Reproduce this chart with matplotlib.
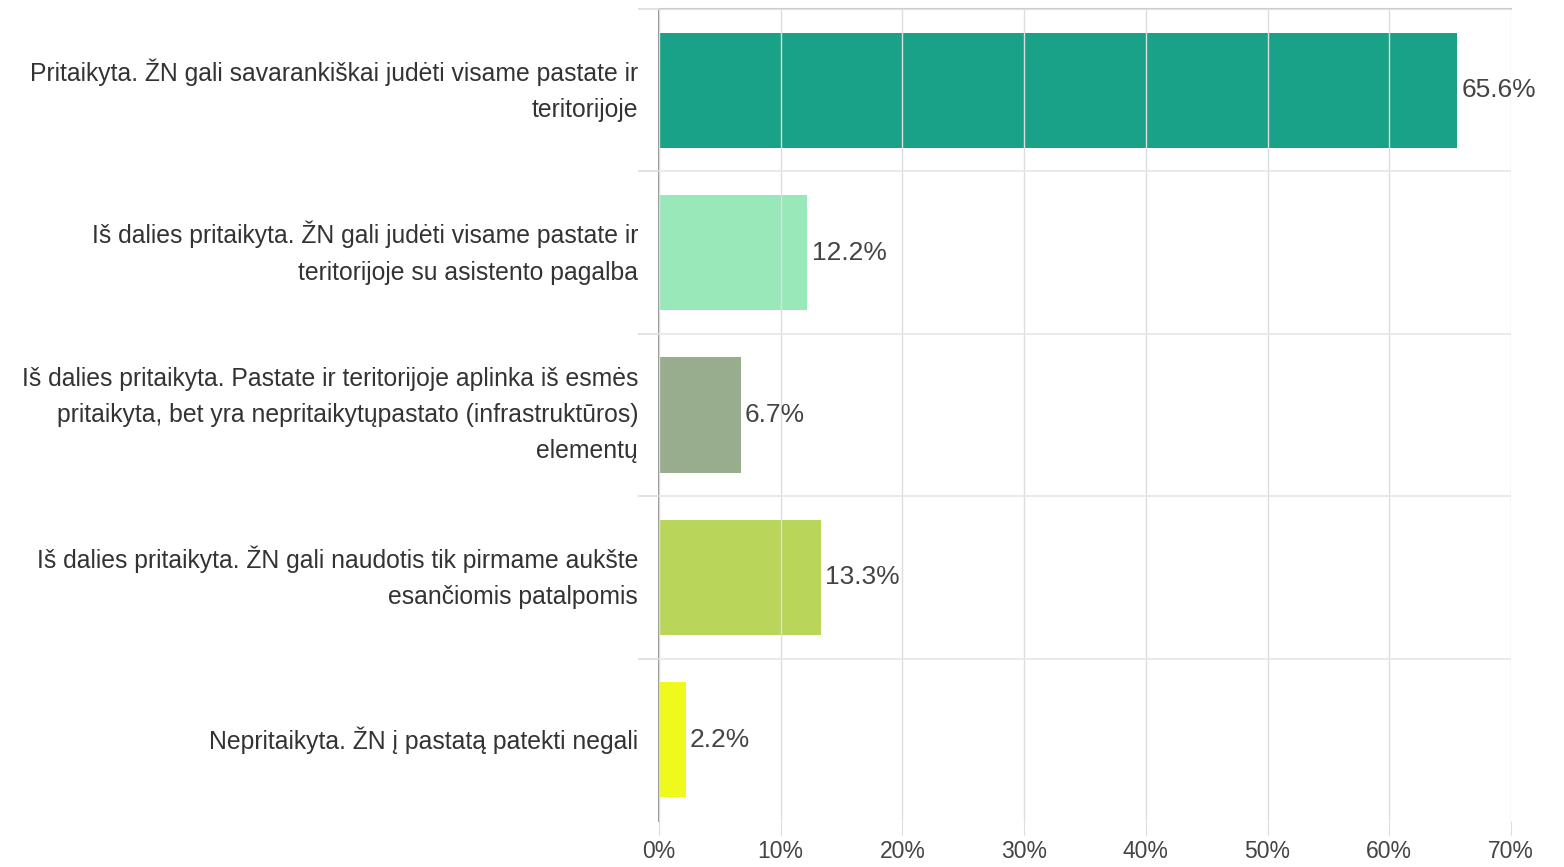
import numpy as np
import matplotlib
matplotlib.use("Agg")
import matplotlib.pyplot as plt
from matplotlib.ticker import FixedLocator, FuncFormatter

plt.rcParams['font.family'] = ['Liberation Sans', 'DejaVu Sans']

categories = [
    "Pritaikyta. ŽN gali savarankiškai judėti visame pastate ir\nteritorijoje",
    "Iš dalies pritaikyta. ŽN gali judėti visame pastate ir\nteritorijoje su asistento pagalba",
    "Iš dalies pritaikyta. Pastate ir teritorijoje aplinka iš esmės\npritaikyta, bet yra nepritaikytųpastato (infrastruktūros)\nelementų",
    "Iš dalies pritaikyta. ŽN gali naudotis tik pirmame aukšte\nesančiomis patalpomis",
    "Nepritaikyta. ŽN į pastatą patekti negali",
]
values = [65.6, 12.2, 6.7, 13.3, 2.2]
colors = ["#1aa289", "#98e8b9", "#97ad8d", "#b9d65a", "#f0f91c"]
xticks = [0, 10, 20, 30, 40, 50, 60, 70]

fig = plt.figure(figsize=(15.64, 8.67), dpi=100)
ax = fig.add_axes([659/1564, 1-821/867, (1511-659)/1564, (821-9)/867])

y = np.arange(len(values))
ax.barh(y, values, height=0.71, color=colors, zorder=1)

for yi, v in zip(y, values):
    ax.annotate(f"{v}%", (v, yi), xytext=(3, 0), textcoords="offset points",
                va="center", ha="left", fontsize=19, color="#444444",
                annotation_clip=False)

ax.set_ylim(len(values) - 0.5, -0.5)
ax.set_xlim(0, 70)

ax.set_yticks(y)
ax.set_yticklabels(categories, fontsize=17.8, color="#333333", linespacing=1.65, va="center")
ax.yaxis.set_minor_locator(FixedLocator(np.arange(-0.5, len(values) - 1, 1)))
ax.tick_params(axis='y', which='major', length=0, pad=15)
ax.tick_params(axis='y', which='minor', length=15, color="#dddddd", width=1.2)

ax.set_xticks(xticks)
ax.xaxis.set_major_formatter(FuncFormatter(lambda v, p: f"{v:.0f}%"))
ax.tick_params(axis='x', length=10, color="#dddddd", labelsize=16.5, labelcolor="#444444", pad=4)

ax.grid(axis='x', color="#dddddd", linewidth=1, zorder=2)
ax.grid(axis='y', which='minor', color="#e6e6e6", linewidth=1.2, zorder=2)
ax.set_axisbelow(False)

for s in ['right', 'bottom']:
    ax.spines[s].set_visible(False)
ax.spines['top'].set_color("#cccccc")
ax.spines['top'].set_linewidth(1.5)
ax.spines['left'].set_color("#888888")
ax.spines['left'].set_linewidth(1.2)

fig.savefig("out.png", dpi=100)
